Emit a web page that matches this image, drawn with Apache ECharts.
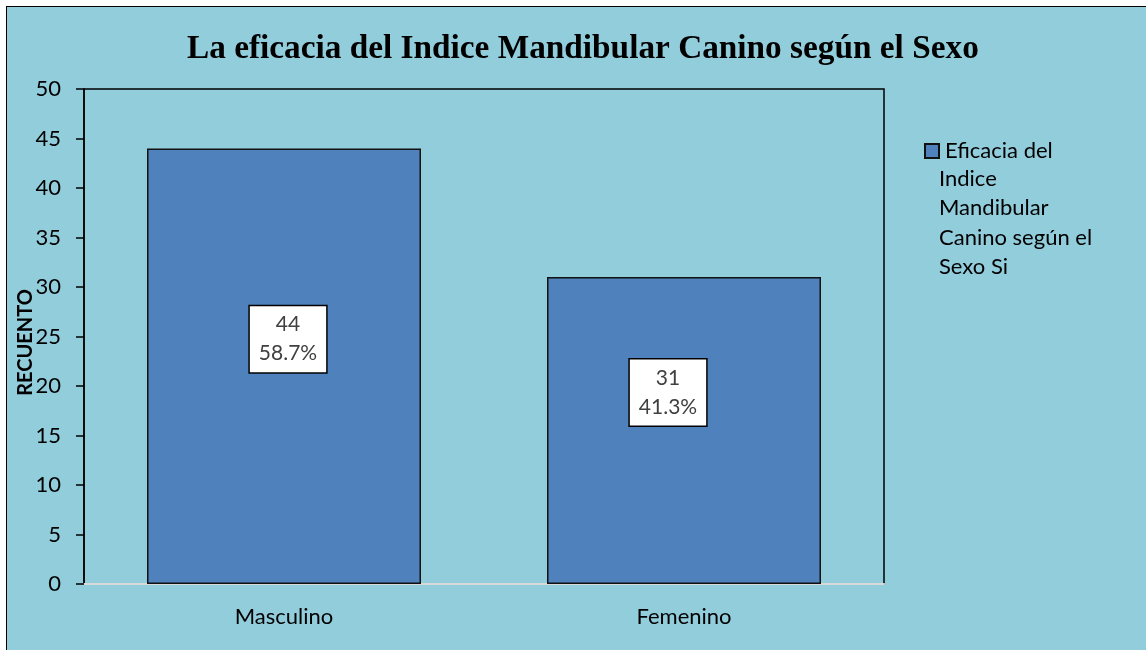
<!DOCTYPE html>
<html>
<head>
<meta charset="utf-8">
<script src="https://cdn.jsdelivr.net/npm/echarts@6/dist/echarts.min.js"></script>
<style>
  html, body { margin: 0; padding: 0; background: #fff; overflow: hidden; }
  #frame { position: absolute; left: 6px; top: 6px; width: 1160px; height: 660px; background: #92CDDC; border: 1.5px solid #000; }
  #chart { position: absolute; left: 0; top: 0; width: 1146px; height: 650px; }
</style>
</head>
<body>
<div id="frame"></div>
<div id="chart"></div>
<script>
var categories = ['Masculino', 'Femenino']
var counts = [44, 31]
var percents = ['58.7%', '41.3%']
var yTicks = [0, 50, 5]
var seriesName = 'Eficacia del Indice Mandibular Canino según el Sexo Si'

// the data label boxes sit a little off-centre in the original
var labelShift = [[4, -27], [-16, -38]]

var myChart = echarts.init(document.getElementById('chart'))
myChart.setOption({
  backgroundColor: 'transparent',
  title: {
    text: 'La eficacia del Indice Mandibular Canino según el Sexo',
    left: 182,
    top: 28,
    textStyle: {
      fontFamily: 'Liberation Serif',
      fontWeight: 'bold',
      fontSize: 33.3,
      color: '#000'
    }
  },
  grid: {
    left: 84,
    top: 89,
    width: 800,
    height: 495,
    containLabel: false,
    outerBoundsMode: 'none',
    show: true,
    borderColor: '#000',
    borderWidth: 1.5,
    backgroundColor: 'transparent'
  },
  legend: {
    left: 919,
    top: 135,
    itemWidth: 14,
    itemHeight: 14,
    itemGap: 0,
    selectedMode: false,
    icon: 'rect',
    formatter: function () { return 'Eficacia del' },
    textStyle: {
      fontFamily: 'Lato',
      fontSize: 22,
      color: '#000',
      padding: [0, 0, 0, 1]
    }
  },
  graphic: [
    {
      type: 'text',
      left: 939,
      top: 164,
      style: {
        text: 'Indice\nMandibular\nCanino según el\nSexo Si',
        font: '22px Lato',
        lineHeight: 29.5,
        fill: '#000'
      }
    }
  ],
  xAxis: {
    type: 'category',
    data: categories,
    axisLine: { lineStyle: { color: '#d9d9d9', width: 2 } },
    axisTick: { show: false },
    axisLabel: {
      margin: 22,
      fontFamily: 'Lato',
      fontSize: 22,
      color: '#000'
    }
  },
  yAxis: {
    type: 'value',
    min: yTicks[0],
    max: yTicks[1],
    interval: yTicks[2],
    name: 'RECUENTO',
    nameLocation: 'middle',
    nameGap: 48,
    nameMoveOverlap: false,
    nameTextStyle: {
      fontFamily: 'Lato',
      fontWeight: 'bold',
      fontSize: 20,
      color: '#000',
      padding: [0, 12, 0, 0]
    },
    axisLine: { show: true, lineStyle: { color: '#000', width: 1.5 } },
    axisTick: { show: true, length: 8, lineStyle: { color: '#000', width: 1.5 } },
    axisLabel: {
      margin: 23,
      fontFamily: 'Lato',
      fontSize: 22,
      color: '#000'
    },
    splitLine: { show: false }
  },
  series: [
    {
      name: seriesName,
      type: 'bar',
      barWidth: '68.5%',
      data: counts.map((v, i) => ({ value: v, label: { offset: labelShift[i] } })),
      itemStyle: {
        color: '#4F81BD',
        borderColor: '#111',
        borderWidth: 1.5
      },
      label: {
        show: true,
        position: 'inside',
        formatter: function (p) { return p.value + '\n' + percents[p.dataIndex] },
        fontFamily: 'Lato',
        fontSize: 21,
        lineHeight: 29,
        color: '#404040',
        backgroundColor: '#fff',
        borderColor: '#000',
        borderWidth: 1.5,
        padding: [4, 9, 4, 9],
        align: 'center'
      }
    }
  ]
})
</script>
</body>
</html>
